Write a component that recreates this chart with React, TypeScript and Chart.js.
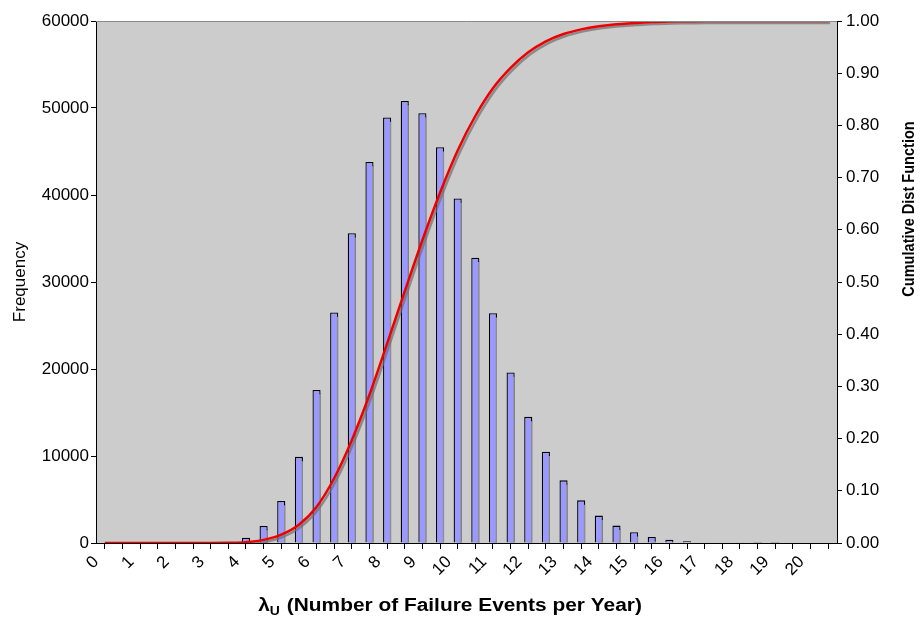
import React, { useEffect, useRef } from "react";
import { Chart, registerables } from "chart.js";

Chart.register(...registerables);

// Bin centres (λu, failure events per year), bins 0.5 wide from 0 to 21
const binCenters = [
  0.25, 0.75, 1.25, 1.75, 2.25, 2.75, 3.25, 3.75, 4.25, 4.75,
  5.25, 5.75, 6.25, 6.75, 7.25, 7.75, 8.25, 8.75, 9.25, 9.75,
  10.25, 10.75, 11.25, 11.75, 12.25, 12.75, 13.25, 13.75, 14.25, 14.75,
  15.25, 15.75, 16.25, 16.75, 17.25, 17.75, 18.25, 18.75, 19.25, 19.75,
  20.25, 20.75,
];

// Frequency per bin (left axis)
const frequency = [
  0, 0, 0, 0, 0, 0, 0, 100, 600, 1960,
  4840, 9900, 17600, 26500, 35600, 43800, 48900, 50800, 49400, 45500,
  39600, 32800, 26400, 19600, 14500, 10500, 7200, 4900, 3150, 2000,
  1250, 700, 380, 190, 90, 45, 20, 10, 5, 0,
  0, 0,
];

// Cumulative distribution function (right axis)
const cdf = [
  0, 0, 0, 0, 0, 0, 0, 0.0003, 0.0015, 0.006,
  0.016, 0.035, 0.069, 0.124, 0.197, 0.284, 0.382, 0.482, 0.580, 0.671,
  0.752, 0.818, 0.871, 0.910, 0.940, 0.961, 0.975, 0.984, 0.990, 0.994,
  0.996, 0.998, 0.999, 0.9995, 1, 1, 1, 1, 1, 1,
  1, 1,
];

const xTickLabels = [
  "0", "1", "2", "3", "4", "5", "6", "7", "8", "9", "10",
  "11", "12", "13", "14", "15", "16", "17", "18", "19", "20",
];

const leftTitle = "Frequency";
const rightTitle = "Cumulative Dist Function";
const xTitleSymbol = "λ";
const xTitleSub = "U";
const xTitleRest = " (Number of Failure Events per Year)";

const FONT = "'Liberation Sans', Arial, Helvetica, sans-serif";

const plotBgPlugin = {
  id: "plotBg",
  beforeDraw(chart: any) {
    const { ctx, chartArea } = chart;
    if (!chartArea) return;
    const { left, top, right, bottom } = chartArea;
    ctx.save();
    ctx.fillStyle = "#CCCCCC";
    ctx.fillRect(left, top, right - left, bottom - top);
    ctx.restore();
  },
  afterDatasetsDraw(chart: any) {
    const { ctx, chartArea } = chart;
    const { left, top, right } = chartArea;
    ctx.save();
    ctx.strokeStyle = "#8a8a8a";
    ctx.lineWidth = 1;
    ctx.beginPath();
    ctx.moveTo(left, top + 0.5);
    ctx.lineTo(right, top + 0.5);
    ctx.stroke();
    ctx.restore();
  },
};

const shadowPlugin = {
  id: "shadow",
  beforeDatasetDraw(chart: any, args: any) {
    const ctx = chart.ctx;
    ctx.save();
    ctx.shadowColor = args.index === 0 ? "rgba(110,110,110,0.7)" : "#8e8e8e";
    ctx.shadowOffsetX = args.index === 0 ? 2 : 3;
    ctx.shadowOffsetY = args.index === 0 ? 2 : 3;
    ctx.shadowBlur = 0;
  },
  afterDatasetDraw(chart: any) {
    chart.ctx.restore();
  },
};

const titlesPlugin = {
  id: "titles",
  afterDraw(chart: any) {
    const ctx = chart.ctx;
    ctx.save();
    ctx.fillStyle = "#000";
    // x-axis title with subscript (horizontally widened like the reference)
    const mainFont = `bold 18px ${FONT}`;
    const subFont = `bold 12px ${FONT}`;
    const sx = 1.16;
    ctx.font = mainFont;
    const wSym = ctx.measureText(xTitleSymbol).width;
    const wRest = ctx.measureText(xTitleRest).width;
    ctx.font = subFont;
    const wSub = ctx.measureText(xTitleSub).width + 1;
    const total = (wSym + wSub + wRest) * sx;
    const baseY = 611;
    ctx.save();
    ctx.translate(450 - total / 2, baseY);
    ctx.scale(sx, 1);
    ctx.textBaseline = "alphabetic";
    ctx.textAlign = "left";
    let x = 0;
    ctx.font = mainFont;
    ctx.fillText(xTitleSymbol, x, 0);
    x += wSym;
    ctx.font = subFont;
    ctx.fillText(xTitleSub, x, 4);
    x += wSub;
    ctx.font = mainFont;
    ctx.fillText(xTitleRest, x, 0);
    ctx.restore();

    // right axis title, reading bottom to top
    ctx.save();
    ctx.translate(909, 209);
    ctx.rotate(-Math.PI / 2);
    ctx.textAlign = "center";
    ctx.textBaseline = "middle";
    ctx.font = `bold 15px ${FONT}`;
    ctx.scale(0.97, 1.12);
    ctx.fillText(rightTitle, 0, 0);
    ctx.restore();
    ctx.restore();
  },
};

export default function App() {
  const canvasRef = useRef<HTMLCanvasElement | null>(null);

  useEffect(() => {
    if (!canvasRef.current) return;
    const tickFont = { family: FONT, size: 17 };
    const chart = new Chart(canvasRef.current, {
      type: "bar",
      data: {
        datasets: [
          {
            type: "line",
            label: "CDF",
            data: binCenters.map((c, i) => ({ x: c, y: cdf[i] })),
            yAxisID: "y1",
            xAxisID: "x",
            borderColor: "#EE0000",
            borderWidth: 2.5,
            pointRadius: 0,
            cubicInterpolationMode: "monotone",
            fill: false,
            order: 0,
          } as any,
          {
            type: "bar",
            label: "Frequency",
            data: binCenters.map((c, i) => ({ x: c, y: frequency[i] })),
            yAxisID: "y",
            xAxisID: "x",
            backgroundColor: "#9999FF",
            borderColor: "#000000",
            borderWidth: 1.3,
            barPercentage: 0.46,
            categoryPercentage: 1,
            order: 1,
          } as any,
        ],
      },
      options: {
        animation: false,
        responsive: true,
        maintainAspectRatio: false,
        layout: { padding: { top: 21, left: 0, right: 0, bottom: 0 } },
        plugins: {
          legend: { display: false },
          tooltip: { enabled: false },
          title: { display: false },
        },
        scales: {
          x: {
            type: "linear",
            min: 0,
            max: 21,
            offset: false,
            grid: {
              display: true,
              drawOnChartArea: false,
              drawTicks: true,
              tickLength: 6,
              color: "#000",
            },
            border: { display: true, color: "#000", width: 1 },
            ticks: {
              stepSize: 0.5,
              autoSkip: false,
              maxTicksLimit: 200,
              minRotation: 45,
              maxRotation: 45,
              padding: 3,
              color: "#000",
              font: tickFont,
              callback: (value: any) => {
                const v = Number(value);
                return Number.isInteger(v) && v < xTickLabels.length ? xTickLabels[v] : "";
              },
            },
            afterFit: (s: any) => {
              s.height = 81;
            },
          } as any,
          y: {
            type: "linear",
            position: "left",
            min: 0,
            max: 60000,
            grid: {
              display: true,
              drawOnChartArea: false,
              tickLength: 5,
              color: "#000",
            },
            border: { display: true, color: "#000", width: 1 },
            ticks: {
              stepSize: 10000,
              padding: 2,
              color: "#000",
              font: tickFont,
              callback: (value: any) => String(value),
            },
            title: {
              display: true,
              text: leftTitle,
              color: "#000",
              font: { family: FONT, size: 17 },
              padding: { top: 10, bottom: 0 },
            },
            afterFit: (s: any) => {
              s.width = 96;
            },
          } as any,
          y1: {
            type: "linear",
            position: "right",
            min: 0,
            max: 1,
            grid: {
              display: true,
              drawOnChartArea: false,
              tickLength: 5,
              color: "#000",
            },
            border: { display: true, color: "#000", width: 1 },
            ticks: {
              stepSize: 0.1,
              padding: 4,
              color: "#000",
              font: tickFont,
              callback: (value: any) => Number(value).toFixed(2),
            },
            afterFit: (s: any) => {
              s.width = 87;
            },
          } as any,
        },
      },
      plugins: [plotBgPlugin, shadowPlugin, titlesPlugin],
    });
    return () => chart.destroy();
  }, []);

  return (
    <div style={{ position: "absolute", left: 0, top: 0, width: 924, height: 624, background: "#fff" }}>
      <canvas ref={canvasRef} />
    </div>
  );
}
